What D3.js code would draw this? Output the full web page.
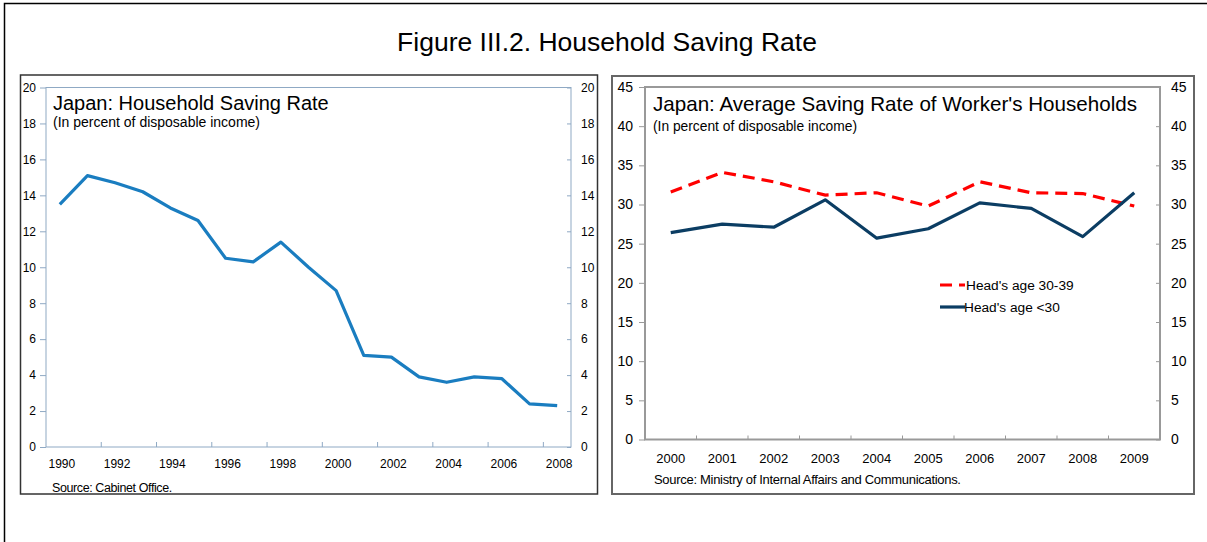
<!DOCTYPE html>
<html>
<head>
<meta charset="utf-8">
<script src="https://cdn.jsdelivr.net/npm/d3@7"></script>
<style>
  body { margin: 0; background: #fff; }
  svg { font-family: "Liberation Sans", Arial, sans-serif; }
</style>
</head>
<body>
<div id="viz"></div>
<script>
// left chart data
var years1 = [1990,1991,1992,1993,1994,1995,1996,1997,1998,1999,2000,2001,2002,2003,2004,2005,2006,2007,2008];
var savingRate = [13.5,15.1,14.7,14.2,13.3,12.6,10.5,10.3,11.4,10.0,8.7,5.1,5.0,3.9,3.6,3.9,3.8,2.4,2.3];
var yTicks1 = [0,2,4,6,8,10,12,14,16,18,20];

// right chart data
var years2 = [2000,2001,2002,2003,2004,2005,2006,2007,2008,2009];
var age3039 = [31.6,34.1,32.9,31.2,31.5,29.8,32.9,31.5,31.4,29.8];
var ageUnder30 = [26.4,27.5,27.1,30.6,25.7,26.9,30.2,29.5,25.9,31.5];
var yTicks2 = [0,5,10,15,20,25,30,35,40,45];
var seriesNames = ["Head's age 30-39", "Head's age <30"];

var W = 1207, H = 542;
var svg = d3.select("#viz").append("svg")
    .attr("width", W).attr("height", H);

// outer frame (only left and top visible)
svg.append("path")
    .attr("d", "M4.5,542V3.5H1207")
    .attr("fill", "none").attr("stroke", "#000").attr("stroke-width", 1.5);

svg.append("text")
    .attr("x", 607).attr("y", 51)
    .attr("text-anchor", "middle")
    .attr("font-size", "26.5px")
    .text("Figure III.2. Household Saving Rate");

// panel boxes
svg.append("rect").attr("x", 20.5).attr("y", 75).attr("width", 577).attr("height", 419)
    .attr("fill", "none").attr("stroke", "#333").attr("stroke-width", 1.5);
svg.append("rect").attr("x", 612).attr("y", 76).attr("width", 582).attr("height", 418)
    .attr("fill", "none").attr("stroke", "#666").attr("stroke-width", 2);

/* ---- left chart ---- */
var p1 = {left: 46, right: 571, top: 87.5, bottom: 447};
var x1 = d3.scaleBand().domain(years1).range([p1.left, p1.right]).paddingInner(0).paddingOuter(0);
var y1 = d3.scaleLinear().domain([0, 20]).range([p1.bottom, p1.top]);

var g1 = svg.append("g");
g1.append("rect")
    .attr("x", p1.left).attr("y", p1.top)
    .attr("width", p1.right - p1.left).attr("height", p1.bottom - p1.top)
    .attr("fill", "none").attr("stroke", "#8fa9c4").attr("stroke-width", 1);

var yl1 = g1.append("g").attr("transform", "translate(" + p1.left + ",0)")
    .call(d3.axisLeft(y1).tickValues(yTicks1).tickSize(6).tickPadding(4));
var yr1 = g1.append("g").attr("transform", "translate(" + p1.right + ",0)")
    .call(d3.axisRight(y1).tickValues(yTicks1).tickSize(-4).tickPadding(10));
yr1.selectAll("text").attr("text-anchor", "start");

// x ticks at every second category boundary
var xb1 = years1.filter(function(d, i) { return i % 2 == 0; });
g1.append("g").selectAll("line")
    .data(xb1.slice(1))
    .enter().append("line")
    .attr("x1", function(d) { return x1(d); }).attr("x2", function(d) { return x1(d); })
    .attr("y1", p1.bottom).attr("y2", p1.bottom - 5)
    .attr("stroke", "#8fa9c4");
g1.append("g").selectAll("text")
    .data(xb1)
    .enter().append("text")
    .attr("x", function(d) { return x1(d) + x1.bandwidth() / 2 + 2; })
    .attr("y", 468)
    .attr("text-anchor", "middle")
    .attr("font-size", "12px")
    .text(function(d) { return d; });

[yl1, yr1].forEach(function(a) {
  a.select(".domain").remove();
  a.selectAll("line").attr("stroke", "#8fa9c4");
  a.selectAll("text").attr("font-size", "12px").attr("fill", "#000").attr("font-family", "Liberation Sans, Arial, sans-serif");
});

var line1 = d3.line()
    .x(function(d, i) { return x1(years1[i]) + x1.bandwidth() / 2; })
    .y(function(d) { return y1(d); });
g1.append("path").datum(savingRate)
    .attr("d", line1)
    .attr("fill", "none").attr("stroke", "#1a7dc0").attr("stroke-width", 3.2)
    .attr("stroke-linejoin", "round");

g1.append("text").attr("x", 53).attr("y", 110).attr("font-size", "20px")
    .text("Japan: Household Saving Rate");
g1.append("text").attr("x", 53).attr("y", 127).attr("font-size", "14px")
    .text("(In percent of disposable income)");
g1.append("text").attr("x", 52).attr("y", 492).attr("font-size", "12.5px")
    .attr("letter-spacing", "-0.4px")
    .text("Source: Cabinet Office.");

/* ---- right chart ---- */
var p2 = {left: 645, right: 1160, top: 87, bottom: 439.5};
var x2 = d3.scaleBand().domain(years2).range([p2.left, p2.right]);
var y2 = d3.scaleLinear().domain([0, 45]).range([p2.bottom, p2.top]);

var g2 = svg.append("g");
g2.append("rect")
    .attr("x", p2.left).attr("y", p2.top)
    .attr("width", p2.right - p2.left).attr("height", p2.bottom - p2.top)
    .attr("fill", "none").attr("stroke", "#999").attr("stroke-width", 2);

var yl2 = g2.append("g").attr("transform", "translate(" + p2.left + ",0)")
    .call(d3.axisLeft(y2).tickValues(yTicks2).tickSize(6).tickPadding(6));
var yr2 = g2.append("g").attr("transform", "translate(" + p2.right + ",0)")
    .call(d3.axisRight(y2).tickValues(yTicks2).tickSize(-4).tickPadding(11));
yr2.selectAll("text").attr("text-anchor", "start");

g2.append("g").selectAll("line")
    .data(years2.slice(1))
    .enter().append("line")
    .attr("x1", function(d) { return x2(d); }).attr("x2", function(d) { return x2(d); })
    .attr("y1", p2.bottom).attr("y2", p2.bottom - 4)
    .attr("stroke", "#999");
g2.append("g").selectAll("text")
    .data(years2)
    .enter().append("text")
    .attr("x", function(d) { return x2(d) + x2.bandwidth() / 2; })
    .attr("y", 463)
    .attr("text-anchor", "middle")
    .attr("font-size", "13px")
    .text(function(d) { return d; });

[yl2, yr2].forEach(function(a) {
  a.select(".domain").remove();
  a.selectAll("line").attr("stroke", "#999");
  a.selectAll("text").attr("font-size", "14px").attr("fill", "#000").attr("font-family", "Liberation Sans, Arial, sans-serif");
});

var line2 = d3.line()
    .x(function(d, i) { return x2(years2[i]) + x2.bandwidth() / 2; })
    .y(function(d) { return y2(d); });
g2.append("path").datum(age3039)
    .attr("d", line2)
    .attr("fill", "none").attr("stroke", "#ff0000").attr("stroke-width", 3.2)
    .attr("stroke-dasharray", "12,7");
g2.append("path").datum(ageUnder30)
    .attr("d", line2)
    .attr("fill", "none").attr("stroke", "#0b3d63").attr("stroke-width", 3.2)
    .attr("stroke-linejoin", "round");

g2.append("text").attr("x", 653).attr("y", 111).attr("font-size", "20.6px")
    .text("Japan: Average Saving Rate of Worker's Households");
g2.append("text").attr("x", 653).attr("y", 131).attr("font-size", "13.8px")
    .text("(In percent of disposable income)");
g2.append("text").attr("x", 654).attr("y", 484).attr("font-size", "13px")
    .attr("letter-spacing", "-0.3px")
    .text("Source: Ministry of Internal Affairs and Communications.");

// legend
var legColors = ["#ff0000", "#0b3d63"];
var legDash = ["12,7", null];
var leg = g2.append("g").selectAll("g")
    .data(seriesNames)
    .enter().append("g")
    .attr("transform", function(d, i) { return "translate(940," + (285 + i * 22) + ")"; });
leg.append("line")
    .attr("x1", 0).attr("x2", 25).attr("y1", 0).attr("y2", 0)
    .attr("stroke", function(d, i) { return legColors[i]; })
    .attr("stroke-width", 3.2)
    .attr("stroke-dasharray", function(d, i) { return legDash[i]; });
leg.append("text")
    .attr("x", function(d, i) { return i == 0 ? 26 : 24; })
    .attr("y", 5)
    .attr("font-size", "13.7px")
    .text(function(d) { return d; });
</script>
</body>
</html>
